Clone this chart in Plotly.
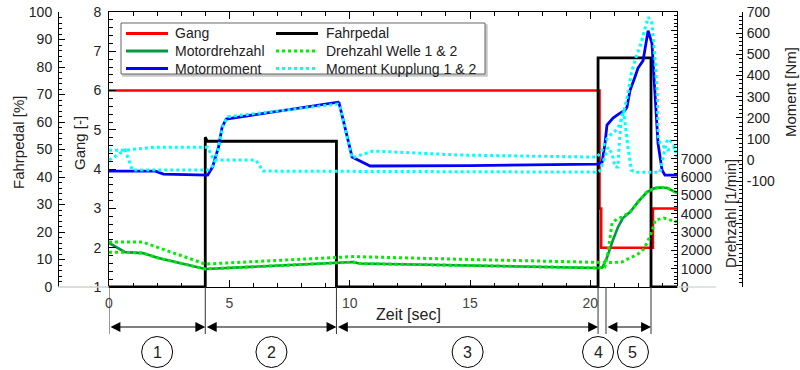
import plotly.graph_objects as go

# ---------------- data ----------------
t_gang = [0, 20.38, 20.38, 20.45, 20.45, 22.6, 22.6, 23.6]
gang = [6, 6, 3, 3, 2, 2, 3, 3]

t_pedal = [0, 4.0, 4.0, 4.08, 9.45, 9.45, 20.32, 20.32, 22.52, 22.52, 23.6]
pedal = [0, 0, 54.5, 53, 53, 0, 0, 83.3, 83.3, 0, 0]

t_mdz = [0, 0.67, 1.4, 2.05, 4.0, 9.5, 10.15, 10.4, 15, 20.3, 20.5, 20.7, 20.94, 21.15, 21.35, 21.65, 21.98, 22.35, 22.65, 22.9, 23.2, 23.6]
mdz = [2400, 1900, 1850, 1580, 980, 1310, 1360, 1280, 1150, 1040, 1060, 1640, 2560, 3270, 3760, 4090, 4640, 5180, 5380, 5430, 5400, 5130]

t_welle1 = [0, 1.4, 4.0, 9.5, 10.15, 15, 20.3, 20.8, 21.3, 21.65, 21.98, 22.2, 22.35, 22.55, 22.7, 23.05, 23.6]
welle1 = [2450, 2450, 1250, 1640, 1660, 1500, 1330, 1330, 1360, 1580, 1800, 2050, 2400, 3000, 3650, 3760, 3550]

t_welle2 = [0, 0.67, 1.4, 2.05, 4.0, 9.5, 10.15, 10.4, 15, 20.3, 20.6, 20.75, 20.9, 21.05, 21.3, 21.65, 21.98, 22.35, 22.65, 22.9, 23.2, 23.6]
welle2 = [1900, 1900, 1850, 1580, 980, 1310, 1360, 1280, 1150, 1040, 1080, 2020, 3490, 3650, 3820, 4090, 4640, 5180, 5380, 5450, 5400, 5130]

t_mm = [0, 1.93, 2.26, 4.1, 4.3, 4.55, 4.7, 4.87, 9.52, 9.56, 10.1, 10.85, 15, 20.28, 20.49, 20.61, 20.69, 20.94, 21.23, 21.44, 21.52, 21.65, 21.85, 21.98, 22.19, 22.4, 22.56, 22.69, 22.81, 22.98, 23.1, 23.6]
mm = [-52, -52, -66, -71, -33, 61, 156, 194, 274, 270, 14, -28, -26, -19, -9, 80, 165, 199, 222, 236, 250, 330, 392, 435, 470, 612, 550, 314, 80, -48, -71, -71]

t_kup1 = [0, 0.67, 0.97, 4.1, 4.35, 4.55, 4.75, 4.95, 9.5, 9.6, 10.1, 10.97, 14.5, 20.28, 20.49, 20.61, 20.74, 21.15, 21.28, 21.4, 21.57, 21.7, 21.9, 22.11, 22.4, 22.56, 22.69, 22.78, 22.82, 22.9, 23.2, 23.45, 23.6]
kup1 = [0, 47, -47, -47, -25, 60, 170, 205, 265, 250, 10, 43, 24, 14, 47, 85, 109, 150, 189, 236, 317, 411, 487, 553, 676, 648, 473, 317, 109, 80, 47, 57, 71]

t_kup2 = [0, 0.67, 1.9, 4.1, 4.35, 6.1, 6.4, 20.28, 20.4, 20.61, 20.74, 20.9, 21.03, 21.15, 21.2, 21.28, 21.38, 21.54, 21.7, 21.85, 22.9, 23.02, 23.2, 23.45, 23.6]
kup2 = [47, 47, 61, 61, 0, 0, -52, -57, -50, 14, 61, 30, -33, -33, 80, 189, 236, 80, -47, -57, -57, 14, 99, 80, 14]

phase_bounds = [0, 4.0, 9.45, 20.32, 20.65, 22.52]
phase_spans = [(0, 4.0), (4.0, 9.45), (9.45, 20.32), (20.65, 22.52)]
phase_labels = ["1", "2", "3", "4", "5"]
phase_centers = [2.0, 6.75, 14.9, 20.32, 21.77]

legend_names = ["Gang", "Motordrehzahl", "Motormoment", "Fahrpedal", "Drehzahl Welle 1 & 2", "Moment Kupplung 1 & 2"]
legend_colors = ["#ff0000", "#009a44", "#0000ff", "#000000", "#00ee00", "#00ffff"]
legend_dash = ["solid", "solid", "solid", "solid", "dot", "dot"]

# ---------------- geometry helpers ----------------
W, H = 800, 370
ML, MR, MT, MB = 10, 10, 12, 83
PW = W - ML - MR
PH = H - MT - MB


def px(x):
    return (x - ML) / PW


def py(y):
    return 1 - (y - MT) / PH


FONT = "Liberation Sans, Arial, sans-serif"

fig = go.Figure()

fig.add_trace(go.Scatter(x=t_gang, y=gang, yaxis="y", mode="lines",
                         line=dict(color="#ff0000", width=2.6), name="Gang"))
fig.add_trace(go.Scatter(x=t_mm, y=mm, yaxis="y4", mode="lines",
                         line=dict(color="#0000ff", width=2.8), name="Motormoment"))
fig.add_trace(go.Scatter(x=t_kup2, y=kup2, yaxis="y4", mode="lines",
                         line=dict(color="#00ffff", width=3, dash="dot"), name="Moment Kupplung 2"))
fig.add_trace(go.Scatter(x=t_kup1, y=kup1, yaxis="y4", mode="lines",
                         line=dict(color="#00ffff", width=3, dash="dot"), name="Moment Kupplung 1"))
fig.add_trace(go.Scatter(x=t_mdz, y=mdz, yaxis="y3", mode="lines",
                         line=dict(color="#009a44", width=2.6), name="Motordrehzahl"))
fig.add_trace(go.Scatter(x=t_welle1, y=welle1, yaxis="y3", mode="lines",
                         line=dict(color="#00ee00", width=3, dash="dot"), name="Drehzahl Welle 1"))
fig.add_trace(go.Scatter(x=t_welle2, y=welle2, yaxis="y3", mode="lines",
                         line=dict(color="#00ee00", width=3, dash="dot"), name="Drehzahl Welle 2"))
fig.add_trace(go.Scatter(x=t_pedal, y=pedal, yaxis="y2", mode="lines",
                         line=dict(color="#000000", width=2.8), name="Fahrpedal"))

tickfont = dict(family=FONT, size=14, color="#222")
xdom = [px(109), px(677)]

fig.update_layout(
    width=W, height=H,
    margin=dict(l=ML, r=MR, t=MT, b=MB, autoexpand=False),
    paper_bgcolor="white", plot_bgcolor="white",
    showlegend=False,
    font=dict(family=FONT, size=14, color="#222"),
    xaxis=dict(domain=xdom, range=[0, 23.6], showgrid=False, zeroline=False,
               showline=True, linecolor="#000", linewidth=1, mirror="ticks",
               ticks="inside", ticklen=7, tickcolor="#000", dtick=5, tick0=0,
               minor=dict(ticks="inside", ticklen=4, dtick=1, tickcolor="#000"),
               tickfont=dict(family=FONT, size=14, color="#444"), ticklabelstandoff=3,
               automargin=False),
    yaxis=dict(range=[1, 8], showgrid=False, zeroline=False, showline=True,
               linecolor="#000", linewidth=1, ticks="inside", ticklen=7,
               tickcolor="#000", dtick=1, tick0=1,
               minor=dict(ticks="inside", ticklen=4, dtick=0.2, tickcolor="#000"),
               tickfont=tickfont, ticklabelstandoff=4, automargin=False),
    yaxis2=dict(range=[0, 100], overlaying="y", side="left", anchor="free",
                position=px(58), showgrid=False, zeroline=False, showline=True,
                linecolor="#000", linewidth=1, ticks="inside", ticklen=6,
                tickcolor="#000", dtick=10, tick0=0,
                minor=dict(ticks="inside", ticklen=3, dtick=2, tickcolor="#000"),
                tickfont=tickfont, ticklabelstandoff=3, automargin=False),
    yaxis3=dict(range=[0, 15000], overlaying="y", side="right", anchor="x",
                showgrid=False, zeroline=False, showline=True, linecolor="#000",
                linewidth=1, ticks="inside", ticklen=6, tickcolor="#000",
                tickmode="array", tickvals=list(range(0, 15001, 1000)),
                ticktext=[str(v) if v <= 7000 else "" for v in range(0, 15001, 1000)],
                minor=dict(ticks="inside", ticklen=3, dtick=200, tickcolor="#000"),
                tickfont=tickfont, ticklabelstandoff=0, automargin=False),
    yaxis4=dict(range=[-600, 700], overlaying="y", side="right", anchor="free",
                position=px(742), showgrid=False, zeroline=False, showline=True,
                linecolor="#000", linewidth=1, ticks="inside", ticklen=6,
                tickcolor="#000", tickmode="array",
                tickvals=list(range(-600, 701, 100)),
                ticktext=[str(v) if v >= -100 else "" for v in range(-600, 701, 100)],
                minor=dict(ticks="inside", ticklen=3, dtick=20, tickcolor="#000"),
                tickfont=tickfont, ticklabelstandoff=1, automargin=False),
)

shapes = []
annotations = []

# faint baseline extensions
shapes.append(dict(type="line", xref="paper", yref="paper", x0=px(58), x1=px(109),
                   y0=py(287), y1=py(287), line=dict(color="#d0d0d0", width=1.5)))
shapes.append(dict(type="line", xref="paper", yref="paper", x0=px(677), x1=px(716),
                   y0=py(287), y1=py(287), line=dict(color="#d8d8d8", width=1.5)))


def title_ann(text, x, y, angle, size=15):
    return dict(text=text, x=px(x), y=py(y), xref="paper", yref="paper",
                xanchor="center", yanchor="middle", textangle=angle,
                showarrow=False, font=dict(size=size, color="#222"))


annotations += [
    title_ann("Fahrpedal [%]", 18, 143, -90),
    title_ann("Gang [-]", 79, 143, -90),
    title_ann("Drehzahl [1/min]", 730, 214, -90),
    title_ann("Moment [Nm]", 790, 92, -90),
    title_ann("Zeit [sec]", 408, 314, 0, 16),
]

# legend box (drawn manually)
shapes.append(dict(type="rect", xref="paper", yref="paper", x0=px(123), x1=px(487),
                   y0=py(25), y1=py(76), line=dict(color="#c8c8c8", width=1.5),
                   fillcolor="#c8c8c8"))
shapes.append(dict(type="rect", xref="paper", yref="paper", x0=px(121), x1=px(485),
                   y0=py(23), y1=py(74), line=dict(color="#666", width=1),
                   fillcolor="white"))
rows = [33.5, 51, 68.5]
cols = [(126, 168, 173), (276, 318, 324)]
for i, name in enumerate(legend_names):
    c = cols[i // 3]
    yy = rows[i % 3]
    shapes.append(dict(type="line", xref="paper", yref="paper", x0=px(c[0]), x1=px(c[1]),
                       y0=py(yy), y1=py(yy),
                       line=dict(color=legend_colors[i], width=3, dash=legend_dash[i])))
    annotations.append(dict(text=name, x=px(c[2]), y=py(yy), xref="paper", yref="paper",
                            xanchor="left", yanchor="middle", showarrow=False,
                            font=dict(size=14, color="#222")))

# phase markers below the axis
for b in phase_bounds:
    shapes.append(dict(type="line", xref="x", yref="paper", x0=b, x1=b,
                       y0=py(287), y1=py(334), line=dict(color="#333", width=1)))
for a, b in phase_spans:
    annotations.append(dict(x=b, y=py(327), ax=a, ay=0, xref="x", yref="paper",
                            axref="x", ayref="pixel", text="", showarrow=True,
                            arrowhead=2, arrowside="end+start", arrowsize=1.8,
                            arrowwidth=1.1, arrowcolor="#000"))
for lab, c in zip(phase_labels, phase_centers):
    shapes.append(dict(type="circle", xref="x", yref="paper", xsizemode="pixel",
                       ysizemode="pixel", xanchor=c, yanchor=py(352),
                       x0=-15.5, x1=15.5, y0=-15.5, y1=15.5,
                       line=dict(color="#000", width=1)))
    annotations.append(dict(text=lab, x=c, y=py(352), xref="x", yref="paper",
                            xanchor="center", yanchor="middle",
                            showarrow=False, font=dict(size=16, color="#222")))

fig.update_layout(shapes=shapes, annotations=annotations)
fig.write_html("out.html")
